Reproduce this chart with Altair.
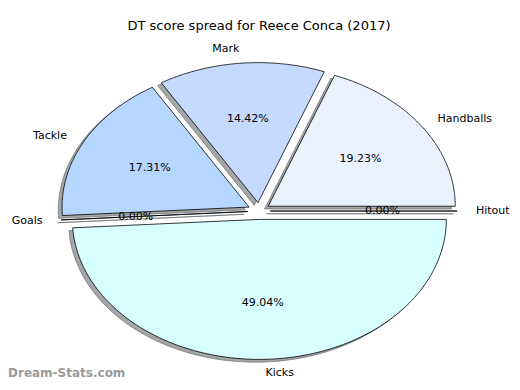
import altair as alt
import pandas as pd

# ---- data ----
labels = ["Hitout", "Handballs", "Mark", "Tackle", "Goals", "Kicks"]
values = [0.00, 19.23, 14.42, 17.31, 0.00, 49.04]
colors = ["#E4EEFF", "#EAF2FF", "#C6DAFF", "#B5D6FF", "#CCE5FF", "#D8FFFF"]
title_text = "DT score spread for Reece Conca (2017)"
watermark = "Dream-Stats.com"

df = pd.DataFrame({"label": labels, "value": values, "idx": list(range(len(labels)))})

# ---- layout / style constants ----
EXPLODE = 0.06
N = 120
W, H = 502, 334
PAD_TOP = 38
CX, CY = 251, 165      # pie centre within the plot area (px)
RX, RY = 187, 140      # pie radii (px) -> elliptical like the reference
xdom = [-CX / RX, (W - CX) / RX]
ydom = [-(H - CY) / RY, CY / RY]
FONT = "DejaVu Sans"

xs = dict(scale=alt.Scale(domain=xdom, nice=False, zero=False), axis=None)
ys = dict(scale=alt.Scale(domain=ydom, nice=False, zero=False), axis=None)
color_scale = alt.Scale(domain=labels, range=colors)

base = (
    alt.Chart(df)
    .transform_joinaggregate(total="sum(value)")
    .transform_window(cum="sum(value)", sort=[alt.SortField("idx")])
    .transform_calculate(
        a0="2*PI*(datum.cum-datum.value)/datum.total",
        a1="2*PI*datum.cum/datum.total",
    )
    .transform_calculate(mid="(datum.a0+datum.a1)/2")
)

poly = (
    base.transform_calculate(pts=f"sequence(0,{N + 3})")
    .transform_flatten(["pts"], as_=["t"])
    .transform_calculate(
        edge=f"datum.t>0 && datum.t<{N + 2}",
        ang=f"datum.a0+(datum.a1-datum.a0)*(datum.t-1)/{N}",
    )
    .transform_calculate(
        px=f"{EXPLODE}*cos(datum.mid)+(datum.edge ? cos(datum.ang) : 0)",
        py=f"{EXPLODE}*sin(datum.mid)+(datum.edge ? sin(datum.ang) : 0)",
    )
    .transform_calculate(sx="datum.px-0.02", sy="datum.py-0.02")
)

shadow = poly.mark_line(
    fill="#4a4d50", fillOpacity=0.5, stroke="#4a4d50", strokeOpacity=0.5,
    strokeWidth=1, interpolate="linear",
).encode(
    x=alt.X("sx:Q", **xs),
    y=alt.Y("sy:Q", **ys),
    detail="label:N",
    order=alt.Order("t:Q"),
)

wedges = poly.mark_line(
    stroke="black", strokeWidth=0.8, interpolate="linear", strokeJoin="miter",
).encode(
    x=alt.X("px:Q", **xs),
    y=alt.Y("py:Q", **ys),
    fill=alt.Fill("label:N", scale=color_scale, legend=None),
    detail="label:N",
    order=alt.Order("t:Q"),
)

txt = base.transform_calculate(
    lx=f"({EXPLODE}+1.1)*cos(datum.mid)",
    ly=f"({EXPLODE}+1.1)*sin(datum.mid)",
    tx=f"({EXPLODE}+0.6)*cos(datum.mid)",
    ty=f"({EXPLODE}+0.6)*sin(datum.mid)",
    pct="format(datum.value/datum.total*100,'.2f')+'%'",
    side="cos(datum.mid)>0 ? 'L' : 'R'",
)

lab_left = txt.transform_filter("datum.side=='L'").mark_text(
    align="left", baseline="middle", font=FONT, fontSize=11, color="black"
).encode(x=alt.X("lx:Q", **xs), y=alt.Y("ly:Q", **ys), text="label:N")

lab_right = txt.transform_filter("datum.side=='R'").mark_text(
    align="right", baseline="middle", font=FONT, fontSize=11, color="black"
).encode(x=alt.X("lx:Q", **xs), y=alt.Y("ly:Q", **ys), text="label:N")

pct = txt.mark_text(
    align="center", baseline="middle", font=FONT, fontSize=11, color="black"
).encode(x=alt.X("tx:Q", **xs), y=alt.Y("ty:Q", **ys), text="pct:N")

wm = alt.Chart(pd.DataFrame({"w": [watermark]})).mark_text(
    align="left", baseline="bottom", font=FONT, fontSize=12, fontWeight="bold",
    color="#9a9a9a",
).encode(x=alt.value(0), y=alt.value(H), text="w:N")

chart = (
    alt.layer(shadow, wedges, lab_left, lab_right, pct, wm)
    .properties(
        width=W,
        height=H,
        autosize=alt.AutoSizeParams(type="none"),
        padding={"left": 0, "right": 0, "top": PAD_TOP, "bottom": 0},
        title=alt.TitleParams(
            title_text, font=FONT, fontSize=13, fontWeight="normal", color="black",
            anchor="middle", frame="group", baseline="middle", offset=4,
        ),
    )
    .configure_view(stroke=None)
)

chart.save("out.html", embed_options={"renderer": "svg", "actions": False})
